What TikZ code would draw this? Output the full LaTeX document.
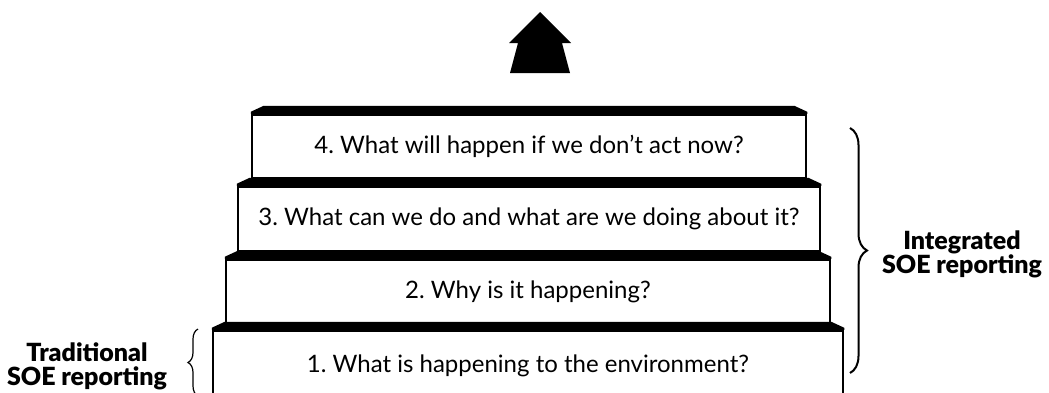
\documentclass[tikz,border=0pt]{standalone}
\usepackage{fontspec}
\setmainfont{Lato}
\newfontfamily\heavyfont{Lato Black}
\usetikzlibrary{decorations.pathreplacing}
\frenchspacing

\begin{document}
\begin{tikzpicture}[x=1pt,y=1pt,
 stage/.style={draw,line width=2.5pt,inner sep=0pt,font=\fontsize{24}{28}\selectfont},
 tag/.style={align=center,font=\fontsize{25}{24}\selectfont\heavyfont},
 curly/.style={decorate,decoration={brace,amplitude=#1},line width=2pt}]
\useasboundingbox (0,0) rectangle (1049,-392);
% arrow on top
\fill (540,-12) -- (571,-43) -- (562,-43) -- (570,-73) -- (510,-73) -- (518,-43) -- (509,-43) -- cycle;
% the four steps
\node[stage,minimum width=630pt,minimum height=70pt] (q1) at (528,-366) {1. What is happening to the environment?};
\node[stage,minimum width=604pt,minimum height=63pt] (q2) at (528,-291.5) {2. Why is it happening?};
\node[stage,minimum width=582pt,minimum height=64pt] (q3) at (529,-219) {3. What can we do and what are we doing about it?};
\node[stage,minimum width=554pt,minimum height=63pt] (q4) at (529,-146.5) {4. What will happen if we don’t act now?};
\foreach \n in {q1,q2,q3,q4}
 \fill ([yshift=2pt]\n.north west) -- ++(13,6) -- ([shift={(-13,8)}]\n.north east) -- ([yshift=2pt]\n.north east) -- (\n.north east) -- (\n.north west) -- cycle;
% braces and their labels
\coordinate (itop) at (850,-128);
\coordinate (ibot) at (850,-373);
\draw[curly=17pt] (itop) -- (ibot);
\node[tag] (integ) at (962,-254) {Integrated\\SOE reporting};
\coordinate (ttop) at (198,-329);
\coordinate (tbot) at (198,-396);
\draw[curly=10pt,line width=1.2pt] (tbot) -- (ttop);
\node[tag] (trad) at (87,-366) {Traditional\\SOE reporting};
\end{tikzpicture}
\end{document}
